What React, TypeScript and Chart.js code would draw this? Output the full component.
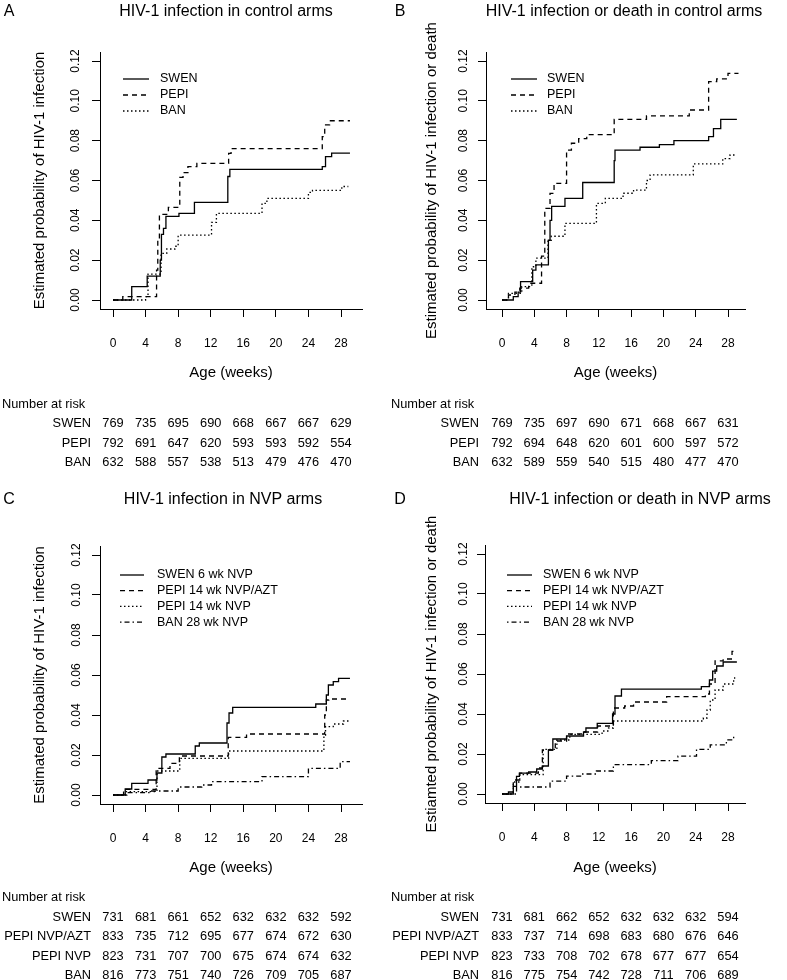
import { useEffect, useRef } from "react";
import { Chart, registerables } from "chart.js";
Chart.register(...registerables);

const FONT = "'Liberation Sans', Arial, Helvetica, sans-serif";

const X_TICKS = [0, 4, 8, 12, 16, 20, 24, 28];
const Y_TICKS = [0, 0.02, 0.04, 0.06, 0.08, 0.1, 0.12];

// Panel A: HIV-1 infection in control arms  [week, probability]
const A_SWEN = [[0,0],[2.3,0.0067],[4.2,0.012],[5.8,0.020],[5.95,0.033],[6.2,0.036],[6.5,0.042],[8.1,0.0435],[10.0,0.049],[14.1,0.062],[14.35,0.0656],[25.7,0.067],[26.1,0.072],[26.85,0.0737],[29.1,0.0737]];
const A_PEPI = [[0,0],[1.2,0.0017],[5.35,0.015],[5.5,0.030],[5.7,0.043],[6.8,0.0465],[8.2,0.0616],[8.6,0.064],[9.2,0.067],[10.3,0.0686],[14.2,0.0736],[14.5,0.076],[25.7,0.082],[26.0,0.0879],[26.6,0.090],[29.1,0.090]];
const A_BAN = [[0,0],[4.0,0.0017],[4.3,0.013],[5.9,0.0234],[6.6,0.0256],[7.6,0.027],[8.0,0.0326],[12.1,0.039],[12.7,0.0435],[18.3,0.0485],[18.9,0.051],[24.0,0.054],[24.5,0.055],[28.1,0.057],[28.9,0.057]];

// Panel B: HIV-1 infection or death in control arms
const B_SWEN = [[0,0],[1.4,0.0017],[2.0,0.004],[2.3,0.0092],[3.8,0.015],[4.2,0.0176],[5.75,0.030],[5.95,0.040],[6.15,0.047],[7.8,0.051],[10.0,0.059],[13.9,0.070],[14.0,0.0753],[17.1,0.0767],[19.5,0.078],[21.3,0.080],[25.6,0.082],[26.2,0.086],[27.1,0.0907],[29.1,0.0907]];
const B_PEPI = [[0,0],[0.8,0.0025],[1.6,0.004],[2.2,0.006],[3.3,0.0084],[4.9,0.022],[5.3,0.046],[5.95,0.0535],[6.45,0.0586],[8.0,0.0753],[8.6,0.0787],[9.5,0.081],[10.5,0.083],[13.9,0.0907],[17.9,0.0924],[23.2,0.0954],[25.6,0.1096],[26.6,0.111],[28.0,0.1138],[29.3,0.1138]];
const B_BAN = [[0,0],[0.8,0.0033],[2.45,0.0067],[3.7,0.0167],[4.2,0.021],[5.7,0.030],[6.1,0.032],[7.8,0.0385],[11.7,0.0485],[12.8,0.051],[15.0,0.0536],[16.3,0.0552],[17.9,0.060],[18.35,0.0628],[23.7,0.0683],[27.35,0.071],[28.25,0.0728],[28.9,0.0728]];

// Panel C: HIV-1 infection in NVP arms
const C_SWEN = [[0,0],[1.5,0.003],[2.3,0.0058],[4.3,0.0075],[5.4,0.011],[6.0,0.019],[6.5,0.0205],[10.1,0.0245],[10.6,0.026],[14.0,0.036],[14.25,0.041],[14.7,0.0438],[24.9,0.0455],[26.2,0.050],[26.45,0.055],[27.05,0.0567],[27.7,0.0583],[29.1,0.0583]];
const C_AZT = [[0,0],[1.3,0.0028],[5.3,0.0133],[7.0,0.0158],[8.15,0.0195],[14.15,0.0288],[16.4,0.0305],[26.0,0.040],[26.2,0.0475],[26.5,0.048],[29.1,0.048]];
const C_NVP = [[0,0],[1.5,0.0017],[5.4,0.012],[8.2,0.0183],[14.2,0.022],[25.9,0.030],[26.1,0.0342],[27.05,0.0355],[28.3,0.037],[29.1,0.037]];
const C_BAN = [[0,0],[1.7,0.0012],[4.5,0.002],[8.0,0.004],[10.9,0.005],[12.1,0.0067],[18.3,0.0092],[24.0,0.0133],[27.9,0.0167],[29.1,0.0167]];

// Panel D: HIV-1 infection or death in NVP arms
const D_SWEN = [[0,0],[0.8,0.001],[1.4,0.0038],[1.8,0.0088],[2.15,0.0104],[3.3,0.011],[4.3,0.0125],[5.0,0.014],[5.75,0.022],[6.3,0.0275],[8.0,0.029],[10.1,0.031],[10.4,0.033],[11.8,0.0353],[13.7,0.040],[14.0,0.049],[14.8,0.0524],[24.7,0.0537],[25.7,0.057],[26.1,0.0614],[26.6,0.064],[27.4,0.066],[29.1,0.066]];
const D_AZT = [[0,0],[1.4,0.007],[2.2,0.0104],[4.5,0.013],[5.0,0.022],[6.6,0.0265],[8.0,0.030],[10.1,0.031],[11.85,0.034],[13.8,0.043],[15.2,0.044],[16.3,0.046],[20.4,0.0487],[25.2,0.050],[25.7,0.055],[26.4,0.0666],[27.4,0.0675],[28.5,0.0713],[28.9,0.0713]];
const D_NVP = [[0,0],[1.4,0.006],[2.2,0.0097],[5.1,0.0223],[6.8,0.027],[8.4,0.0298],[12.4,0.0315],[13.2,0.033],[13.8,0.0365],[24.95,0.038],[25.4,0.042],[25.8,0.047],[26.4,0.052],[27.4,0.055],[28.7,0.058],[28.9,0.058]];
const D_BAN = [[0,0],[1.8,0.0035],[5.95,0.0064],[8.0,0.0089],[9.9,0.010],[11.7,0.0115],[13.8,0.0147],[18.5,0.0167],[21.8,0.0189],[24.1,0.0223],[25.8,0.0246],[27.8,0.0271],[28.7,0.0288],[28.9,0.0288]];

// Legend labels
const CONTROL_LABELS = ["SWEN", "PEPI", "BAN"];
const NVP_LABELS = ["SWEN 6 wk NVP", "PEPI 14 wk NVP/AZT", "PEPI 14 wk NVP", "BAN 28 wk NVP"];

// Number at risk
const CONTROL_RISK_NAMES = ["SWEN", "PEPI", "BAN"];
const NVP_RISK_NAMES = ["SWEN", "PEPI NVP/AZT", "PEPI NVP", "BAN"];
const A_RISK = [[769,735,695,690,668,667,667,629],[792,691,647,620,593,593,592,554],[632,588,557,538,513,479,476,470]];
const B_RISK = [[769,735,697,690,671,668,667,631],[792,694,648,620,601,600,597,572],[632,589,559,540,515,480,477,470]];
const C_RISK = [[731,681,661,652,632,632,632,592],[833,735,712,695,677,674,672,630],[823,731,707,700,675,674,674,632],[816,773,751,740,726,709,705,687]];
const D_RISK = [[731,681,662,652,632,632,632,594],[833,737,714,698,683,680,676,646],[823,733,708,702,678,677,677,654],[816,775,754,742,728,711,706,689]];

const SOLID: number[] = [];
const DASHED = [5, 4];
const DOTTED = [1.5, 2.5];
const DOTDASH = [1.5, 3, 5, 3];

const H = 490;
const XSCALE_H = 50;

type Panel = {
  ox: number; oy: number; cw: number;
  letter: string; title: string; yTitle: string;
  area: { l: number; r: number; t: number; b: number };
  x0: number; x28: number; y0: number; y12: number;
  series: { data: number[][]; dash: number[]; label: string }[];
  leg: { x1: number; x2: number; tx: number; y0: number; dy: number };
  letterX: number; titleX: number; titleY: number; yTickBase: number; yTitleX: number; xTitleY: number;
  risk: { names: string[]; rows: number[][]; headX: number; headY: number; labelRight: number; rowY0: number; dy: number };
};

const panels: Panel[] = [
  {
    ox: 0, oy: 0, cw: 393, letter: "A", title: "HIV-1 infection in control arms",
    yTitle: "Estimated probability of HIV-1 infection",
    area: { l: 100, r: 362, t: 52, b: 309 }, x0: 113, x28: 341, y0: 300, y12: 61,
    series: [
      { data: A_SWEN, dash: SOLID, label: CONTROL_LABELS[0] },
      { data: A_PEPI, dash: DASHED, label: CONTROL_LABELS[1] },
      { data: A_BAN, dash: DOTTED, label: CONTROL_LABELS[2] },
    ],
    leg: { x1: 123, x2: 149, tx: 160, y0: 79, dy: 16 },
    letterX: 9, titleX: 226, titleY: 12, yTickBase: 79, yTitleX: 40, xTitleY: 373,
    risk: { names: CONTROL_RISK_NAMES, rows: A_RISK, headX: 2, headY: 404, labelRight: 91, rowY0: 423.5, dy: 19.5 },
  },
  {
    ox: 375, oy: 0, cw: 412, letter: "B", title: "HIV-1 infection or death in control arms",
    yTitle: "Estimated probability of HIV-1 infection or death",
    area: { l: 486, r: 745, t: 52, b: 309 }, x0: 502, x28: 728, y0: 300, y12: 61,
    series: [
      { data: B_SWEN, dash: SOLID, label: CONTROL_LABELS[0] },
      { data: B_PEPI, dash: DASHED, label: CONTROL_LABELS[1] },
      { data: B_BAN, dash: DOTTED, label: CONTROL_LABELS[2] },
    ],
    leg: { x1: 511, x2: 537, tx: 547, y0: 79, dy: 16 },
    letterX: 400, titleX: 624, titleY: 12, yTickBase: 467, yTitleX: 432, xTitleY: 373,
    risk: { names: CONTROL_RISK_NAMES, rows: B_RISK, headX: 391, headY: 404, labelRight: 479, rowY0: 423.5, dy: 19.5 },
  },
  {
    ox: 0, oy: 490, cw: 393, letter: "C", title: "HIV-1 infection in NVP arms",
    yTitle: "Estimated probability of HIV-1 infection",
    area: { l: 100, r: 362, t: 546, b: 804 }, x0: 113, x28: 341, y0: 795, y12: 555,
    series: [
      { data: C_SWEN, dash: SOLID, label: NVP_LABELS[0] },
      { data: C_AZT, dash: DASHED, label: NVP_LABELS[1] },
      { data: C_NVP, dash: DOTTED, label: NVP_LABELS[2] },
      { data: C_BAN, dash: DOTDASH, label: NVP_LABELS[3] },
    ],
    leg: { x1: 120, x2: 144, tx: 157, y0: 575, dy: 15.7 },
    letterX: 9, titleX: 223, titleY: 500, yTickBase: 80, yTitleX: 40, xTitleY: 868,
    risk: { names: NVP_RISK_NAMES, rows: C_RISK, headX: 2, headY: 897, labelRight: 91, rowY0: 917, dy: 19.6 },
  },
  {
    ox: 375, oy: 490, cw: 412, letter: "D", title: "HIV-1 infection or death in NVP arms",
    yTitle: "Estiamted probability of HIV-1 infection or death",
    area: { l: 485, r: 745, t: 545, b: 803 }, x0: 502, x28: 728, y0: 794, y12: 554,
    series: [
      { data: D_SWEN, dash: SOLID, label: NVP_LABELS[0] },
      { data: D_AZT, dash: DASHED, label: NVP_LABELS[1] },
      { data: D_NVP, dash: DOTTED, label: NVP_LABELS[2] },
      { data: D_BAN, dash: DOTDASH, label: NVP_LABELS[3] },
    ],
    leg: { x1: 507, x2: 532, tx: 543, y0: 575, dy: 15.7 },
    letterX: 400, titleX: 640, titleY: 500, yTickBase: 467, yTitleX: 432, xTitleY: 868,
    risk: { names: NVP_RISK_NAMES, rows: D_RISK, headX: 391, headY: 897, labelRight: 479, rowY0: 917, dy: 19.6 },
  },
];

function makeConfig(p: Panel): any {
  const pxW = (p.x28 - p.x0) / 28;
  const xmin = -(p.x0 - p.area.l) / pxW;
  const xmax = 28 + (p.area.r - p.x28) / pxW;
  const pxY = (p.y0 - p.y12) / 0.12;
  const ymin = -(p.area.b - p.y0) / pxY;
  const ymax = 0.12 + (p.y12 - p.area.t) / pxY;
  const cx = (p.area.l + p.area.r) / 2;

  const textPlugin = {
    id: "kmText" + p.letter,
    afterDraw(chart: any) {
      const ctx = chart.ctx as CanvasRenderingContext2D;
      const xs = chart.scales.x;
      const ys = chart.scales.y;
      const ox = p.ox, oy = p.oy;
      ctx.save();
      ctx.fillStyle = "#000";
      // y tick labels (rotated, R style)
      ctx.font = `12px ${FONT}`;
      for (const v of Y_TICKS) {
        const y = ys.getPixelForValue(v);
        ctx.save();
        ctx.translate(p.yTickBase - ox, y);
        ctx.rotate(-Math.PI / 2);
        ctx.textAlign = "center";
        ctx.textBaseline = "alphabetic";
        ctx.fillText(v.toFixed(2), 0, 0);
        ctx.restore();
      }
      // y axis title
      ctx.font = `15px ${FONT}`;
      ctx.save();
      ctx.translate(p.yTitleX - ox, (p.area.t + p.area.b) / 2 - oy);
      ctx.rotate(-Math.PI / 2);
      ctx.textAlign = "center";
      ctx.textBaseline = "middle";
      ctx.fillText(p.yTitle, 0, 0);
      ctx.restore();
      // x axis title
      ctx.textAlign = "center";
      ctx.textBaseline = "middle";
      ctx.fillText("Age (weeks)", cx - ox, p.xTitleY - oy);
      // main title and letter
      ctx.font = `16px ${FONT}`;
      ctx.fillText(p.title, p.titleX - ox, p.titleY - oy);
      ctx.fillText(p.letter, p.letterX - ox, p.titleY - oy);
      // legend
      ctx.font = `12.5px ${FONT}`;
      ctx.textAlign = "left";
      p.series.forEach((s, i) => {
        const y = p.leg.y0 + i * p.leg.dy - oy;
        ctx.save();
        ctx.strokeStyle = "#000";
        ctx.lineWidth = 1.3;
        ctx.setLineDash(s.dash);
        ctx.beginPath();
        ctx.moveTo(p.leg.x1 - ox, y);
        ctx.lineTo(p.leg.x2 - ox, y);
        ctx.stroke();
        ctx.restore();
        ctx.fillText(s.label, p.leg.tx - ox, y);
      });
      // number at risk table
      ctx.font = `12.8px ${FONT}`;
      ctx.textAlign = "left";
      ctx.fillText("Number at risk", p.risk.headX - ox, p.risk.headY - oy);
      p.risk.rows.forEach((row, i) => {
        const y = p.risk.rowY0 + i * p.risk.dy - oy;
        ctx.textAlign = "right";
        ctx.fillText(p.risk.names[i], p.risk.labelRight - ox, y);
        ctx.textAlign = "center";
        row.forEach((n, j) => {
          ctx.fillText(String(n), xs.getPixelForValue(X_TICKS[j]), y);
        });
      });
      ctx.restore();
    },
  };

  const axisCommon = {
    grid: { display: true, drawOnChartArea: false, drawTicks: true, tickLength: 8, color: "#000", lineWidth: 1 },
    border: { display: true, color: "#000", width: 1 },
  };

  return {
    type: "line",
    data: {
      datasets: p.series.map((s) => ({
        label: s.label,
        data: s.data,
        borderColor: "#000",
        borderWidth: 1.3,
        borderDash: s.dash,
        pointRadius: 0,
        stepped: "before",
        fill: false,
        tension: 0,
      })),
    },
    options: {
      responsive: false,
      animation: false,
      events: [],
      layout: {
        padding: {
          left: p.area.l - p.ox,
          top: p.area.t - p.oy,
          right: p.ox + p.cw - p.area.r,
          bottom: p.oy + H - p.area.b - XSCALE_H,
        },
      },
      plugins: { legend: { display: false }, tooltip: { enabled: false }, title: { display: false } },
      scales: {
        x: {
          type: "linear",
          min: xmin,
          max: xmax,
          afterBuildTicks: (s: any) => { s.ticks = X_TICKS.map((v) => ({ value: v })); },
          afterFit: (s: any) => { s.height = XSCALE_H; },
          ...axisCommon,
          ticks: {
            display: true,
            autoSkip: false,
            maxRotation: 0,
            minRotation: 0,
            padding: 19,
            color: "#000",
            font: { family: FONT, size: 12 },
            callback: (v: any) => String(v),
          },
        },
        y: {
          type: "linear",
          min: ymin,
          max: ymax,
          afterBuildTicks: (s: any) => { s.ticks = Y_TICKS.map((v) => ({ value: v })); },
          afterFit: (s: any) => { s.width = 0; },
          ...axisCommon,
          ticks: { display: false },
        },
      },
    },
    plugins: [textPlugin],
  };
}

function PanelChart({ p }: { p: Panel }) {
  const ref = useRef<HTMLCanvasElement>(null);
  useEffect(() => {
    if (!ref.current) return;
    const chart = new Chart(ref.current, makeConfig(p));
    return () => chart.destroy();
  }, [p]);
  return (
    <canvas
      ref={ref}
      width={p.cw}
      height={H}
      style={{ position: "absolute", left: p.ox, top: p.oy, width: p.cw, height: H }}
    />
  );
}

export default function App() {
  return (
    <div style={{ position: "absolute", left: 0, top: 0, width: 787, height: 980, background: "#fff", overflow: "hidden" }}>
      {panels.map((p) => (
        <PanelChart key={p.letter} p={p} />
      ))}
    </div>
  );
}
